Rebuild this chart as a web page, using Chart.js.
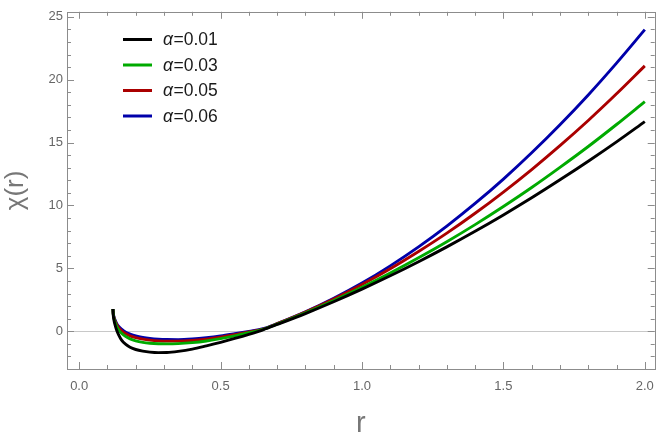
<!DOCTYPE html>
<html>
<head>
<meta charset="utf-8">
<script src="https://cdn.jsdelivr.net/npm/chart.js@4.4.1/dist/chart.umd.min.js"></script>
<style>
html,body{margin:0;padding:0;background:#fff;}
#wrap{width:664px;height:443px;}
</style>
</head>
<body>
<div id="wrap"><canvas id="c" width="664" height="443"></canvas></div>
<script>
// ---- data ----
const rValues = [0.1195,0.1205,0.1225,0.126,0.132,0.14,0.15,0.165,0.18,0.2,0.225,0.25,0.28,0.31,0.35,0.4,0.45,0.5,0.55,0.6,0.65,0.7,0.8,0.9,1.0,1.1,1.2,1.3,1.4,1.5,1.6,1.7,1.8,1.9,2.0];
const chiA001 = [1.77,1.30,0.95,0.58,0.12,-0.30,-0.70,-1.05,-1.27,-1.45,-1.58,-1.66,-1.70,-1.69,-1.60,-1.42,-1.16,-0.88,-0.57,-0.24,0.12,0.54,1.41,2.35,3.35,4.41,5.53,6.71,7.95,9.25,10.61,12.04,13.52,15.06,16.67];
const chiA003 = [1.77,1.38,1.08,0.78,0.42,0.10,-0.16,-0.42,-0.60,-0.76,-0.88,-0.95,-0.99,-1.00,-0.98,-0.90,-0.77,-0.59,-0.37,-0.12,0.15,0.57,1.47,2.45,3.50,4.63,5.84,7.12,8.48,9.92,11.43,13.03,14.69,16.44,18.26];
const chiA005 = [1.77,1.42,1.15,0.88,0.56,0.27,0.04,-0.20,-0.36,-0.50,-0.62,-0.70,-0.76,-0.78,-0.78,-0.73,-0.62,-0.47,-0.28,-0.06,0.17,0.60,1.53,2.57,3.72,4.97,6.34,7.80,9.38,11.07,12.86,14.76,16.76,18.88,21.1];
const chiA006 = [1.77,1.45,1.20,0.95,0.65,0.38,0.17,-0.07,-0.22,-0.37,-0.49,-0.57,-0.63,-0.66,-0.67,-0.62,-0.52,-0.38,-0.20,-0.01,0.20,0.61,1.54,2.62,3.83,5.20,6.71,8.36,10.16,12.10,14.19,16.42,18.79,21.32,23.98];
const seriesLabels = ['\u03b1=0.01','\u03b1=0.03','\u03b1=0.05','\u03b1=0.06'];
const seriesColors = ['#000000','#00aa00','#aa0000','#0000aa'];
const xTickValues = [0,0.5,1.0,1.5,2.0];
const xTickLabels = ['0.0','0.5','1.0','1.5','2.0'];
const yTickValues = [0,5,10,15,20,25];
const yTickLabels = ['0','5','10','15','20','25'];
const xMinorStep = 0.1, yMinorStep = 1;
const xRange = [-0.043, 2.035];
const yRange = [-3.0, 25.4];

const allSeries = [chiA001, chiA003, chiA005, chiA006];
const datasets = allSeries.map((vals, i) => ({
  label: seriesLabels[i],
  data: rValues.map((r, k) => ({x: r, y: vals[k]})),
  borderColor: seriesColors[i],
  backgroundColor: seriesColors[i],
  borderWidth: 2.9,
  pointRadius: 0,
  showLine: true,
  fill: false,
  cubicInterpolationMode: 'monotone'
}));

const FONT = '"Liberation Sans", Arial, sans-serif';
const FRAME = '#8c8c8c';
const framePlugin = {
  id: 'frame',
  afterDatasetsDraw(chart) {
    const ctx = chart.ctx, a = chart.chartArea;
    const xs = chart.scales.x, ys = chart.scales.y;
    ctx.save();
    ctx.strokeStyle = FRAME;
    ctx.lineWidth = 1;
    ctx.strokeRect(Math.round(a.left)+0.5, Math.round(a.top)+0.5, Math.round(a.right-a.left), Math.round(a.bottom-a.top));
    ctx.beginPath();
    for (let k = 0; k * xMinorStep <= xRange[1] + 1e-9; k++) {
      const vv = Math.round(k * xMinorStep * 10) / 10;
      const major = k % 5 === 0;
      const len = major ? 7 : 4;
      const px = Math.round(xs.getPixelForValue(vv)) + 0.5;
      ctx.moveTo(px, a.bottom); ctx.lineTo(px, a.bottom - len);
      ctx.moveTo(px, a.top); ctx.lineTo(px, a.top + len);
    }
    for (let v = -3; v <= yRange[1] + 1e-9; v += yMinorStep) {
      const major = v % 5 === 0;
      const len = major ? 7 : 4;
      const py = Math.round(ys.getPixelForValue(v)) + 0.5;
      ctx.moveTo(a.left, py); ctx.lineTo(a.left + len, py);
      ctx.moveTo(a.right, py); ctx.lineTo(a.right - len, py);
    }
    ctx.stroke();
    ctx.restore();
  },
  afterDraw(chart) {
    const ctx = chart.ctx;
    ctx.save();
    ctx.textBaseline = 'middle';
    ctx.textAlign = 'left';
    chart.data.datasets.forEach((ds, i) => {
      const y = 39.5 + i * 25.5;
      ctx.strokeStyle = ds.borderColor;
      ctx.lineWidth = 3;
      ctx.beginPath();
      ctx.moveTo(123, y); ctx.lineTo(152, y);
      ctx.stroke();
      ctx.fillStyle = '#1a1a1a';
      const sym = ds.label.charAt(0), rest = ds.label.slice(1);
      ctx.font = 'italic 17.5px ' + FONT;
      ctx.fillText(sym, 163, y + 1);
      const w = ctx.measureText(sym).width;
      ctx.font = '17.5px ' + FONT;
      ctx.fillText(rest, 163 + w + 0.5, y + 1);
    });
    ctx.restore();
  }
};

new Chart(document.getElementById('c'), {
  type: 'scatter',
  data: { datasets },
  options: {
    responsive: false,
    animation: false,
    layout: { padding: { top: 6, right: 9, left: 0, bottom: 0 } },
    plugins: { legend: { display: false }, tooltip: { enabled: false } },
    scales: {
      x: {
        type: 'linear', min: xRange[0], max: xRange[1],
        afterBuildTicks: s => { s.ticks = xTickValues.map(v => ({value: v})); },
        afterFit: s => { s.height = 74; },
        ticks: {
          padding: 10, color: '#666',
          font: { family: FONT, size: 13 },
          callback: (v) => { const i = xTickValues.indexOf(v); return i >= 0 ? xTickLabels[i] : ''; },
          maxRotation: 0, autoSkip: false
        },
        grid: { display: false, drawTicks: false },
        border: { display: false },
        title: { display: true, text: 'r', color: '#777',
          font: { family: FONT, size: 29 }, padding: { top: 0, bottom: 2 } }
      },
      y: {
        type: 'linear', min: yRange[0], max: yRange[1],
        afterBuildTicks: s => { s.ticks = yTickValues.map(v => ({value: v})); },
        afterFit: s => { s.width = 67; },
        ticks: {
          padding: 4, color: '#666',
          font: { family: FONT, size: 13 },
          callback: (v) => { const i = yTickValues.indexOf(v); return i >= 0 ? yTickLabels[i] : ''; },
          autoSkip: false
        },
        grid: {
          drawTicks: false,
          color: c => (c.tick && c.tick.value === 0) ? '#c8c8c8' : 'rgba(0,0,0,0)',
          lineWidth: 1
        },
        border: { display: false },
        title: { display: true, text: '\u03c7(r)', color: '#777',
          font: { family: FONT, size: 26 }, padding: { top: 0, bottom: 0 } }
      }
    }
  },
  plugins: [framePlugin]
});
</script>
</body>
</html>
